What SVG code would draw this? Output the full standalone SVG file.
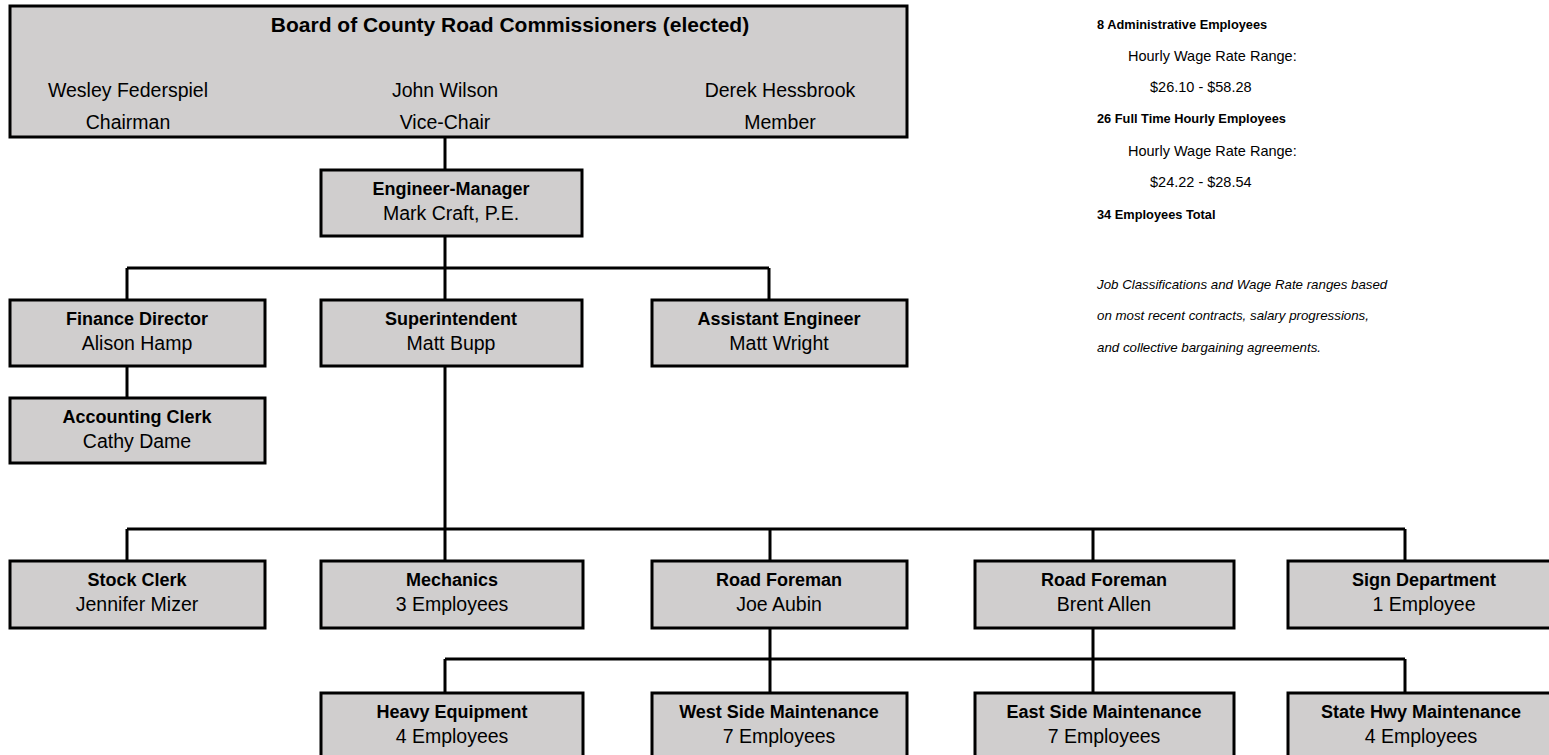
<svg xmlns="http://www.w3.org/2000/svg" width="1549" height="755" viewBox="0 0 1549 755">
<style>
.box{fill:#d0cece;stroke:#000;stroke-width:3}
.t{font-family:"Liberation Sans",Arial,sans-serif;font-size:19.5px;fill:#000;text-anchor:middle}
.b{font-weight:bold;font-size:18px}
.bt{font-size:21px}
.side{font-family:"Liberation Sans",Arial,sans-serif;font-size:14.5px;fill:#000}
.sb{font-weight:bold;font-size:12.8px}
.i{font-style:italic;font-size:13.3px}
#connectors path{fill:none;stroke:#000;stroke-width:3}
</style>
<rect width="1549" height="755" fill="#fff"/>
<g id="connectors">
<path d="M445 137V170"/>
<path d="M445 236V268M127 268H769M127 268V300M445 268V300M769 268V300"/>
<path d="M127 366V398"/>
<path d="M445 366V529M127 529H1405M127 529V561M445 529V561M770 529V561M1093 529V561M1405 529V561"/>
<path d="M770 628V659M1093 628V659M445 659H1405M445 659V693M770 659V693M1093 659V693M1405 659V693"/>
</g>
<g id="board">
<rect class="box" x="10" y="6" width="897" height="131"/>
<text class="t b bt" x="510" y="32">Board of County Road Commissioners (elected)</text>
<text class="t" x="128" y="97">Wesley Federspiel</text>
<text class="t" x="128" y="129">Chairman</text>
<text class="t" x="445" y="97">John Wilson</text>
<text class="t" x="445" y="129">Vice-Chair</text>
<text class="t" x="780" y="97">Derek Hessbrook</text>
<text class="t" x="780" y="129">Member</text>
</g>
<g id="engineer">
<rect class="box" x="321" y="170" width="261" height="66"/>
<text class="t b" x="451" y="195">Engineer-Manager</text>
<text class="t" x="451" y="220">Mark Craft, P.E.</text>
</g>
<g id="finance">
<rect class="box" x="10" y="300" width="255" height="66"/>
<text class="t b" x="137" y="325">Finance Director</text>
<text class="t" x="137" y="350">Alison Hamp</text>
</g>
<g id="superintendent">
<rect class="box" x="321" y="300" width="261" height="66"/>
<text class="t b" x="451" y="325">Superintendent</text>
<text class="t" x="451" y="350">Matt Bupp</text>
</g>
<g id="assistant">
<rect class="box" x="652" y="300" width="255" height="66"/>
<text class="t b" x="779" y="325">Assistant Engineer</text>
<text class="t" x="779" y="350">Matt Wright</text>
</g>
<g id="accounting">
<rect class="box" x="10" y="398" width="255" height="65"/>
<text class="t b" x="137" y="423">Accounting Clerk</text>
<text class="t" x="137" y="448">Cathy Dame</text>
</g>
<g id="stock">
<rect class="box" x="10" y="561" width="255" height="67"/>
<text class="t b" x="137" y="586">Stock Clerk</text>
<text class="t" x="137" y="611">Jennifer Mizer</text>
</g>
<g id="mechanics">
<rect class="box" x="321" y="561" width="262" height="67"/>
<text class="t b" x="452" y="586">Mechanics</text>
<text class="t" x="452" y="611">3 Employees</text>
</g>
<g id="foreman-joe">
<rect class="box" x="652" y="561" width="255" height="67"/>
<text class="t b" x="779" y="586">Road Foreman</text>
<text class="t" x="779" y="611">Joe Aubin</text>
</g>
<g id="foreman-brent">
<rect class="box" x="975" y="561" width="259" height="67"/>
<text class="t b" x="1104" y="586">Road Foreman</text>
<text class="t" x="1104" y="611">Brent Allen</text>
</g>
<g id="sign">
<rect class="box" x="1288" y="561" width="275" height="67"/>
<text class="t b" x="1424" y="586">Sign Department</text>
<text class="t" x="1424" y="611">1 Employee</text>
</g>
<g id="heavy">
<rect class="box" x="321" y="693" width="262" height="66"/>
<text class="t b" x="452" y="718">Heavy Equipment</text>
<text class="t" x="452" y="743">4 Employees</text>
</g>
<g id="west">
<rect class="box" x="652" y="693" width="255" height="66"/>
<text class="t b" x="779" y="718">West Side Maintenance</text>
<text class="t" x="779" y="743">7 Employees</text>
</g>
<g id="east">
<rect class="box" x="975" y="693" width="259" height="66"/>
<text class="t b" x="1104" y="718">East Side Maintenance</text>
<text class="t" x="1104" y="743">7 Employees</text>
</g>
<g id="statehwy">
<rect class="box" x="1288" y="693" width="275" height="66"/>
<text class="t b" x="1421" y="718">State Hwy Maintenance</text>
<text class="t" x="1421" y="743">4 Employees</text>
</g>
<g id="summary">
<text class="side sb" x="1097" y="29">8 Administrative Employees</text>
<text class="side" x="1128" y="61">Hourly Wage Rate Range:</text>
<text class="side" x="1150" y="92">$26.10 - $58.28</text>
<text class="side sb" x="1097" y="123">26 Full Time Hourly Employees</text>
<text class="side" x="1128" y="156">Hourly Wage Rate Range:</text>
<text class="side" x="1150" y="187">$24.22 - $28.54</text>
<text class="side sb" x="1097" y="219">34 Employees Total</text>
<text class="side i" x="1097" y="289">Job Classifications and Wage Rate ranges based</text>
<text class="side i" x="1097" y="320">on most recent contracts, salary progressions,</text>
<text class="side i" x="1097" y="352">and collective bargaining agreements.</text>
</g>
</svg>
